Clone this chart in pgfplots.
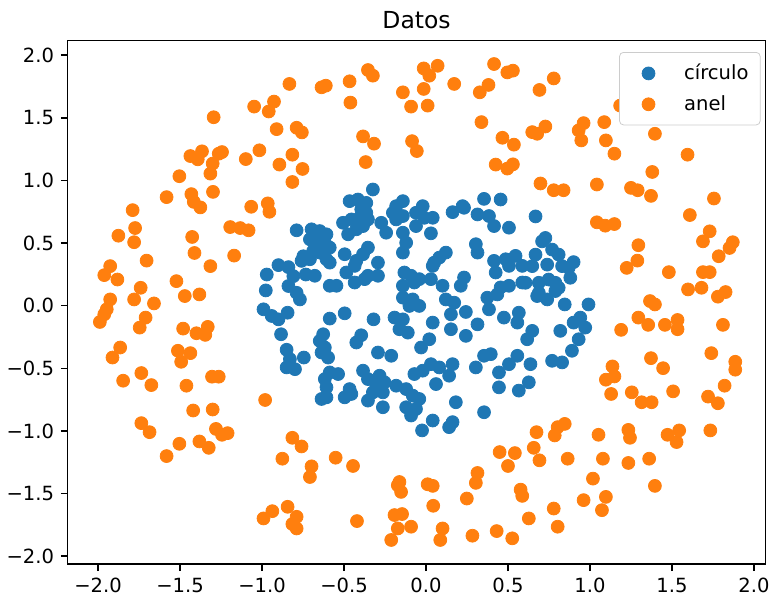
\documentclass[border=0pt]{standalone}
\usepackage{fontspec}
\setmainfont{DejaVu Sans}
\usepackage{pgfplots}
\pgfplotsset{compat=1.18}
\definecolor{mplblue}{HTML}{1F77B4}
\definecolor{mplorange}{HTML}{FF7F0E}
\begin{document}
\begin{tikzpicture}
\begin{axis}[
  scale only axis,
  width=357pt, height=268pt,
  xmin=-2.185, xmax=2.07, ymin=-2.065, ymax=2.118,
  axis line style={line width=0.8pt},
  tick align=outside,
  xtick pos=bottom, ytick pos=left,
  major tick length=3.5pt,
  tick style={line width=0.8pt, black},
  xtick={-2,-1.5,-1,-0.5,0,0.5,1,1.5,2},
  xticklabels={−2.0,−1.5,−1.0,−0.5,0.0,0.5,1.0,1.5,2.0},
  ytick={-2,-1.5,-1,-0.5,0,0.5,1,1.5,2},
  yticklabels={−2.0,−1.5,−1.0,−0.5,0.0,0.5,1.0,1.5,2.0},
  ticklabel style={font=\fontsize{10}{12}\selectfont},
  title={Datos},
  title style={font=\fontsize{12}{14}\selectfont, yshift=-6pt, inner ysep=5.8pt},
  legend style={at={(0.993,0.978)}, anchor=north east, draw=black!20, rounded corners=2pt,
    font=\fontsize{10}{12}\selectfont, row sep=2.5pt, inner xsep=4pt, inner ysep=4pt},
  legend cell align=left,
  legend image code/.code={\path[draw=none] (0cm,0cm) (0.95cm,0cm); \draw[#1, only marks] plot coordinates {(0.38cm,0cm)};},
]
\addplot[only marks, mark=*, mark size=3.3pt, color=mplblue] coordinates {
(-0.789,0.602) (-0.900,0.324) (-0.839,0.308) (-0.748,0.395) (-0.971,0.249) (-0.809,0.236) (-0.733,0.249)
(-0.839,0.157) (-0.977,0.122) (-0.789,0.103) (-0.769,0.050) (-0.991,-0.029) (-0.941,-0.082) (-0.900,-0.109)
(-0.844,-0.056) (-0.884,-0.228) (-0.850,-0.352) (-0.830,-0.427) (-0.850,-0.493) (-0.799,-0.507) (-0.745,-0.414)
(0.668,0.713) (0.728,0.541) (0.708,0.514) (0.668,0.408) (0.769,0.448) (0.809,0.408) (0.900,0.348)
(0.648,0.316) (0.739,0.328) (0.830,0.316) (0.870,0.302) (0.607,0.183) (0.688,0.183) (0.748,0.209)
(0.789,0.183) (0.809,0.143) (0.880,0.223) (0.688,0.103) (0.739,0.050) (0.789,0.117) (0.846,0.010)
(0.991,0.010) (0.941,-0.095) (0.900,-0.135) (0.971,-0.175) (0.931,-0.268) (0.819,-0.201) (0.648,-0.201)
(0.617,-0.268) (0.890,-0.360) (0.769,-0.440) (0.830,-0.453) (0.637,-0.467) (0.627,-0.612)
(-0.324,0.928) (-0.466,0.835) (-0.415,0.848) (-0.364,0.821) (-0.395,0.769) (-0.364,0.742) (-0.506,0.662)
(-0.455,0.689) (-0.405,0.702) (-0.354,0.689) (-0.475,0.570) (-0.425,0.610) (-0.384,0.636) (-0.273,0.662)
(-0.243,0.583) (-0.141,0.835) (-0.182,0.795) (-0.202,0.742) (-0.182,0.689) (-0.141,0.716) (-0.141,0.583)
(-0.121,0.503) (-0.141,0.424) (-0.020,0.795) (-0.061,0.742) (-0.061,0.636) (-0.010,0.702) (0.041,0.702)
(0.030,0.578) (0.162,0.747) (0.223,0.795) (0.232,0.782) (0.354,0.853) (0.455,0.848) (0.314,0.729)
(0.384,0.716) (0.415,0.636) (0.506,0.623) (0.304,0.491) (0.314,0.424) (-0.698,0.610) (-0.648,0.596)
(-0.607,0.570) (-0.708,0.530) (-0.668,0.517) (-0.617,0.503) (-0.587,0.464) (-0.688,0.437) (-0.648,0.424)
(-0.759,0.358) (-0.708,0.371) (-0.607,0.371) (-0.587,0.344) (-0.496,0.411) (-0.354,0.464) (-0.384,0.411)
(-0.425,0.358) (-0.435,0.318) (-0.293,0.344) (-0.486,0.265) (-0.435,0.185) (-0.374,0.212) (-0.354,0.239)
(-0.293,0.239) (-0.678,0.239) (-0.587,0.159) (-0.546,0.159) (0.121,0.424) (0.081,0.384) (0.050,0.344)
(0.041,0.318) (-0.132,0.265) (-0.091,0.239) (-0.141,0.159) (-0.071,0.185) (-0.041,0.212) (0.030,0.212)
(0.101,0.159) (0.232,0.225) (0.212,0.159) (0.415,0.358) (0.486,0.371) (0.546,0.398) (0.425,0.265)
(0.506,0.318) (0.587,0.318) (0.455,0.146) (0.506,0.159) (0.587,0.185)
(-0.587,-0.103) (-0.496,-0.061) (-0.320,-0.109) (-0.627,-0.228) (-0.648,-0.281) (-0.617,-0.334) (-0.637,-0.374)
(-0.597,-0.414) (-0.395,-0.236) (-0.425,-0.294) (-0.293,-0.374) (-0.212,-0.400) (-0.141,0.064) (-0.081,0.050)
(-0.041,-0.002) (-0.101,-0.002) (-0.192,-0.095) (-0.141,-0.109) (-0.162,-0.188) (-0.111,-0.215) (0.041,-0.135)
(0.020,-0.268) (-0.030,-0.334) (0.121,0.050) (0.172,0.024) (0.152,-0.069) (0.243,-0.050) (0.152,-0.188)
(0.314,-0.149) (0.243,-0.241) (0.374,0.064) (0.435,0.090) (0.384,-0.029) (0.678,0.077) (0.475,-0.095)
(0.566,-0.056) (0.557,-0.135) (0.354,-0.400) (0.395,-0.387) (0.304,-0.493) (0.557,-0.400) (0.506,-0.467)
(0.445,-0.533) (0.445,-0.652) (0.566,-0.678) (-0.587,-0.533) (-0.536,-0.546) (-0.617,-0.586) (-0.607,-0.652)
(-0.637,-0.745) (-0.384,-0.519) (-0.354,-0.586) (-0.283,-0.559) (-0.303,-0.639) (-0.253,-0.612) (-0.324,-0.692)
(-0.263,-0.692) (-0.182,-0.639) (-0.121,-0.666) (-0.081,-0.718) (-0.041,-0.745) (-0.466,-0.666) (-0.496,-0.732)
(-0.354,-0.758) (-0.263,-0.811) (-0.071,-0.546) (-0.020,-0.519) (0.030,-0.467) (0.081,-0.493) (0.162,-0.467)
(0.141,-0.559) (0.061,-0.626) (0.182,-0.771) (-0.121,-0.811) (-0.061,-0.825) (0.354,-0.851)
(-0.607,-0.732) (-0.455,-0.705) (-0.091,-0.877) (0.041,-0.917) (-0.024,-0.996) (0.141,-0.970) (0.162,-0.930)
};
\addlegendentry{círculo}
\addplot[only marks, mark=*, mark size=3.3pt, color=mplorange] coordinates {
(-0.833,1.771) (-1.048,1.590) (-0.927,1.630) (-0.959,1.551) (-1.295,1.505) (-0.911,1.410) (-0.789,1.421)
(-0.757,1.384) (-1.437,1.195) (-1.366,1.233) (-1.392,1.169) (-1.264,1.214) (-1.244,1.227) (-1.301,1.135)
(-1.315,1.055) (-1.099,1.171) (-1.016,1.241) (-0.815,1.206) (-0.894,1.127) (-0.753,1.092) (-0.815,0.988)
(-1.504,1.034) (-1.582,0.867) (-1.431,0.891) (-1.416,0.829) (-1.376,0.785) (-1.299,0.909) (-1.789,0.763)
(-1.066,0.790) (-0.965,0.817) (-0.955,0.750)
(-0.637,1.744) (-0.611,1.757) (-0.466,1.792) (-0.354,1.882) (-0.324,1.837) (-0.461,1.622) (-0.141,1.704)
(-0.091,1.590) (-0.014,1.895) (0.020,1.837) (0.071,1.916) (-0.014,1.731) (0.010,1.598) (0.172,1.771)
(0.415,1.930) (0.496,1.863) (0.530,1.877) (0.328,1.704) (0.381,1.763) (0.338,1.466) (-0.384,1.352)
(-0.317,1.294) (-0.368,1.147) (-0.085,1.314) (-0.056,1.235) (0.466,1.341) (0.536,1.286) (0.425,1.127)
(0.496,1.095) (0.530,1.129)
(0.779,1.815) (0.692,1.723) (1.184,1.598) (0.648,1.386) (0.678,1.373) (0.728,1.431) (0.961,1.458)
(0.931,1.400) (0.947,1.320) (1.087,1.466) (1.097,1.320) (1.149,1.214) (1.396,1.373) (1.595,1.206)
(1.380,1.068) (0.698,0.976) (0.779,0.922) (0.839,0.922) (1.042,0.968) (1.250,0.941) (1.291,0.922)
(1.372,0.877) (1.756,0.856) (1.609,0.724)
(-1.774,0.620) (-1.780,0.507) (-1.876,0.559) (-1.426,0.549) (-1.412,0.421) (-1.704,0.360) (-1.315,0.316)
(-1.194,0.628) (-1.133,0.620) (-1.082,0.602) (-1.170,0.400) (-1.926,0.316) (-1.962,0.244) (-1.882,0.209)
(-1.522,0.196) (-1.740,0.143) (-1.780,0.050) (-1.659,0.018) (-1.471,0.077) (-1.382,0.090) (-1.926,0.050)
(-1.947,-0.029) (-1.962,-0.069) (-1.989,-0.130) (-1.710,-0.095) (-1.746,-0.175) (-1.481,-0.183) (-1.400,-0.220)
(-1.346,-0.233) (-1.331,-0.169) (-1.865,-0.334) (-1.912,-0.414) (-1.513,-0.360) (-1.437,-0.379) (-1.493,-0.448)
(-1.736,-0.538) (-1.847,-0.599) (-1.675,-0.634) (-1.461,-0.639) (-1.305,-0.567) (-1.264,-0.567)
(1.042,0.666) (1.093,0.639) (1.149,0.652) (1.295,0.483) (1.289,0.360) (1.224,0.302) (1.481,0.268)
(1.730,0.594) (1.689,0.514) (1.871,0.507) (1.851,0.461) (1.785,0.395) (1.689,0.268) (1.730,0.268)
(1.598,0.130) (1.680,0.143) (1.780,0.072) (1.827,0.109) (1.366,0.037) (1.396,0.010) (1.295,-0.095)
(1.355,-0.153) (1.457,-0.153) (1.534,-0.114) (1.534,-0.188) (1.190,-0.193) (1.811,-0.153) (1.372,-0.419)
(1.446,-0.499) (1.740,-0.379) (1.886,-0.448) (1.886,-0.511) (1.137,-0.485) (1.097,-0.591) (1.149,-0.565)
(1.821,-0.639)
(-0.981,-0.753) (-1.420,-0.837) (-1.301,-0.829) (-1.736,-0.938) (-1.686,-1.010) (-1.281,-0.984) (-1.244,-1.031)
(-1.210,-1.018) (-1.504,-1.103) (-1.382,-1.084) (-1.325,-1.135) (-1.582,-1.201) (-0.815,-1.055) (-0.759,-1.124)
(-0.876,-1.222) (-0.844,-1.606) (-0.937,-1.641) (-0.991,-1.699) (-0.789,-1.686) (-0.815,-1.744) (-0.789,-1.779)
(-0.698,-1.283) (-0.708,-1.368) (-0.551,-1.214) (-0.445,-1.280) (-0.421,-1.720) (-0.162,-1.408) (-0.172,-1.434)
(-0.152,-1.487) (0.010,-1.426) (0.041,-1.439) (0.044,-1.598) (-0.192,-1.672) (-0.146,-1.664) (-0.172,-1.779)
(-0.091,-1.765) (-0.212,-1.871) (0.101,-1.779) (0.087,-1.871) (0.314,-1.336) (0.304,-1.415) (0.249,-1.540)
(0.283,-1.837) (0.431,-1.800) (0.526,-1.858) (0.449,-1.169) (0.542,-1.177) (0.500,-1.280) (0.577,-1.469)
(0.587,-1.519) (0.627,-1.699)
(1.129,-0.705) (1.255,-0.692) (1.315,-0.771) (1.376,-0.771) (1.507,-0.684) (1.720,-0.726) (1.780,-0.779)
(0.674,-1.010) (0.785,-1.036) (0.803,-0.970) (0.846,-0.944) (0.657,-1.135) (0.692,-1.235) (0.864,-1.222)
(1.052,-1.031) (1.234,-0.992) (1.244,-1.055) (1.473,-1.031) (1.544,-0.996) (1.528,-1.089) (1.734,-0.996)
(1.079,-1.222) (1.234,-1.256) (1.361,-1.222) (1.018,-1.381) (1.396,-1.439) (0.961,-1.553) (1.097,-1.527)
(1.073,-1.633) (0.779,-1.620) (0.803,-1.765)
};
\addlegendentry{anel}
\end{axis}
\end{tikzpicture}
\end{document}
